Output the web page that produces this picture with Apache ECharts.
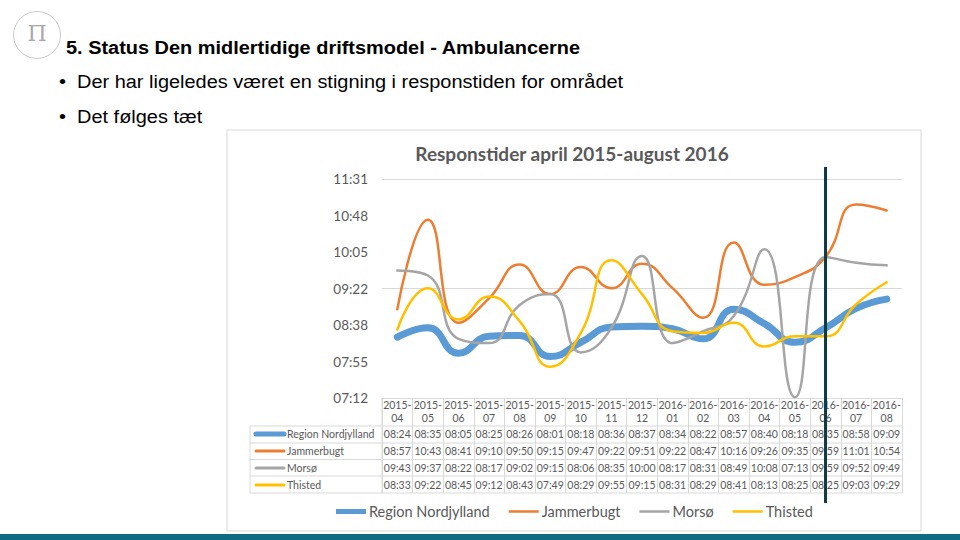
<!DOCTYPE html>
<html>
<head>
<meta charset="utf-8">
<script src="https://cdn.jsdelivr.net/npm/echarts@6/dist/echarts.min.js"></script>
<style>
  html, body { margin: 0; padding: 0; background: #fff; }
  #page { position: relative; width: 960px; height: 540px; overflow: hidden; }
  #chart { position: absolute; left: 0; top: 0; width: 960px; height: 540px; }
  .hdr { position: absolute; font-family: "Liberation Sans", Arial, sans-serif; color: #000; white-space: nowrap; z-index: 2;
         transform: scaleX(1.107); transform-origin: left center; }
  #logo { position: absolute; left: 13px; top: 11px; width: 46px; height: 46px; border: 1.5px solid #c9c9c9; border-radius: 50%; z-index: 2;
          font-family: "DejaVu Serif", serif; color: #a9a9a9; font-size: 22px; line-height: 44px; text-align: center; }
</style>
</head>
<body>
<div id="page">
  <div id="chart"></div>
  <div id="logo">Π</div>
  <div class="hdr" style="left:66px; top:38px; font-size:18px; font-weight:bold;">5. Status Den midlertidige driftsmodel - Ambulancerne</div>
  <div class="hdr" style="left:59px; top:72px; font-size:18px;">•&nbsp; Der har ligeledes været en stigning i responstiden for området</div>
  <div class="hdr" style="left:59px; top:107px; font-size:18px;">•&nbsp; Det følges tæt</div>
</div>
<script>
// ---------- DATA ----------
const categories = ["2015-04","2015-05","2015-06","2015-07","2015-08","2015-09","2015-10","2015-11","2015-12",
                    "2016-01","2016-02","2016-03","2016-04","2016-05","2016-06","2016-07","2016-08"];
const regionNordjylland = ["08:24","08:35","08:05","08:25","08:26","08:01","08:18","08:36","08:37","08:34","08:22","08:57","08:40","08:18","08:35","08:58","09:09"];
const jammerbugt        = ["08:57","10:43","08:41","09:10","09:50","09:15","09:47","09:22","09:51","09:22","08:47","10:16","09:26","09:35","09:59","11:01","10:54"];
const morsoe            = ["09:43","09:37","08:22","08:17","09:02","09:15","08:06","08:35","10:00","08:17","08:31","08:49","10:08","07:13","09:59","09:52","09:49"];
const thisted           = ["08:33","09:22","08:45","09:12","08:43","07:49","08:29","09:55","09:15","08:31","08:29","08:41","08:13","08:25","08:25","09:03","09:29"];
const seriesNames = ["Region Nordjylland","Jammerbugt","Morsø","Thisted"];
const markerCategory = "2016-06";
// y-axis: 07:12 .. 11:31 in steps of 0.03 day (43.2 min)
const yMin = 432, yMax = 691.2, yStep = 43.2;

// ---------- HELPERS ----------
function toMin(s) { const p = s.split(':').map(Number); return p[0] * 60 + p[1]; }
function pad(n) { return (n < 10 ? '0' : '') + n; }
function fmt(v) { const t = Math.round(v); return pad(Math.floor(t / 60)) + ':' + pad(t % 60); }

const FONT = 'Lato';
const TXT = '#595959';
const GRIDC = '#d9d9d9';
const colors = ['#5b9bd5', '#ed7d31', '#a5a5a5', '#ffc000'];
const widths = [7, 2.5, 2.5, 2.5];
const rows = [regionNordjylland, jammerbugt, morsoe, thisted];

// legend sample icons: a band inside a 30x14 box (corner dots keep the box size)
function bandIcon(h) {
  const y0 = (14 - h) / 2, y1 = y0 + h;
  return 'path://M0,0H0.01V0.01H0Z M0,' + y0 + 'H30V' + y1 + 'H0Z M29.99,13.99H30V14H29.99Z';
}

const gridLeft = 382, gridRight = 902, gridTop = 179, gridBottom = 398;
const rowCenters = [434, 451, 468, 485];
const tableBottom = 493;

const chart = echarts.init(document.getElementById('chart'), null, { renderer: 'svg' });

const xAxes = [{
  type: 'category',
  data: categories,
  gridIndex: 0,
  position: 'bottom',
  axisLine: { show: true, lineStyle: { color: GRIDC, width: 1 } },
  axisTick: { show: true, interval: 0, length: tableBottom - gridBottom, lineStyle: { color: GRIDC, width: 1 } },
  axisLabel: {
    interval: 0, margin: 1, fontFamily: FONT, fontSize: 10.5, color: TXT, lineHeight: 12.5,
    formatter: function (v) { const p = v.split('-'); return p[0] + '-\n' + p[1]; }
  },
  splitLine: { show: false }
}];
rows.forEach(function (r, i) {
  xAxes.push({
    type: 'category',
    data: r,
    gridIndex: 0,
    position: 'bottom',
    offset: rowCenters[i] - gridBottom,
    axisLine: { show: false },
    axisTick: { show: false },
    axisLabel: { interval: 0, margin: 0, verticalAlign: 'middle', fontFamily: FONT, fontSize: 10.5, color: TXT },
    splitLine: { show: false },
    silent: true
  });
});

const series = rows.map(function (r, i) {
  return {
    name: seriesNames[i],
    type: 'line',
    xAxisIndex: 0,
    data: r.map(toMin),
    smooth: 0.5,
    symbol: 'none',
    lineStyle: { color: colors[i], width: widths[i], cap: 'round' },
    itemStyle: { color: colors[i] },
    z: 3 + i
  };
});

// table left column & frame (layout only)
const base = [
  { type: 'rect', shape: { x: 227, y: 130, width: 694, height: 401 }, style: { fill: '#fff', stroke: GRIDC, lineWidth: 1 }, z: -10, silent: true },
  { type: 'rect', shape: { x: 0, y: 534, width: 960, height: 6 }, style: { fill: '#0f6b82' }, z: -10, silent: true },
  { type: 'text', style: { x: 572, y: 153, text: 'Responstider april 2015-august 2016', textAlign: 'center', textVerticalAlign: 'middle',
      font: 'bold 19px Lato', fill: TXT }, silent: true },
  { type: 'line', shape: { x1: 250, y1: 426, x2: 250, y2: tableBottom }, style: { stroke: GRIDC, lineWidth: 1 }, silent: true },
  { type: 'line', shape: { x1: gridLeft, y1: gridBottom, x2: gridLeft, y2: tableBottom }, style: { stroke: GRIDC, lineWidth: 1 }, silent: true }
];
[426, 443, 459.5, 476, tableBottom].forEach(function (y) {
  base.push({ type: 'line', shape: { x1: 250, y1: y, x2: gridRight, y2: y }, style: { stroke: GRIDC, lineWidth: 1 }, silent: true });
});
seriesNames.forEach(function (n, i) {
  base.push({ type: 'line', shape: { x1: 256, y1: rowCenters[i], x2: 284, y2: rowCenters[i] },
              style: { stroke: colors[i], lineWidth: i === 0 ? 5 : 3, lineCap: 'round' }, silent: true });
  base.push({ type: 'text', style: { x: 287, y: rowCenters[i], text: n, textVerticalAlign: 'middle',
              font: '10.5px Lato', fill: TXT }, silent: true });
});

chart.setOption({
  animation: false,
  backgroundColor: 'transparent',
  grid: { left: gridLeft, right: 960 - gridRight, top: gridTop, bottom: 540 - gridBottom, containLabel: false },
  xAxis: xAxes,
  yAxis: {
    type: 'value', min: yMin, max: yMax, interval: yStep,
    axisLine: { show: false }, axisTick: { show: false },
    axisLabel: { formatter: fmt, fontFamily: FONT, fontSize: 13.5, color: TXT, margin: 14 },
    splitLine: { show: true, lineStyle: { color: [GRIDC, 'transparent', 'transparent'], width: 1 } }
  },
  legend: {
    data: seriesNames.map(function (n, i) {
      return { name: n, icon: bandIcon(i === 0 ? 5 : 2.5), itemStyle: { color: colors[i] } };
    }),
    left: 336, top: 504, itemWidth: 30, itemHeight: 14, itemGap: 19, padding: 0,
    textStyle: { fontFamily: FONT, fontSize: 14.5, color: TXT, padding: [0, 0, 0, -2] }
  },
  series: series,
  graphic: base
});

const mx = chart.convertToPixel({ xAxisIndex: 0 }, markerCategory);
chart.setOption({
  graphic: base.concat([{ type: 'line', shape: { x1: mx, y1: 167, x2: mx, y2: 503 },
    style: { stroke: '#0d3a45', lineWidth: 3 }, z: 100, silent: true }])
});
</script>
</body>
</html>
